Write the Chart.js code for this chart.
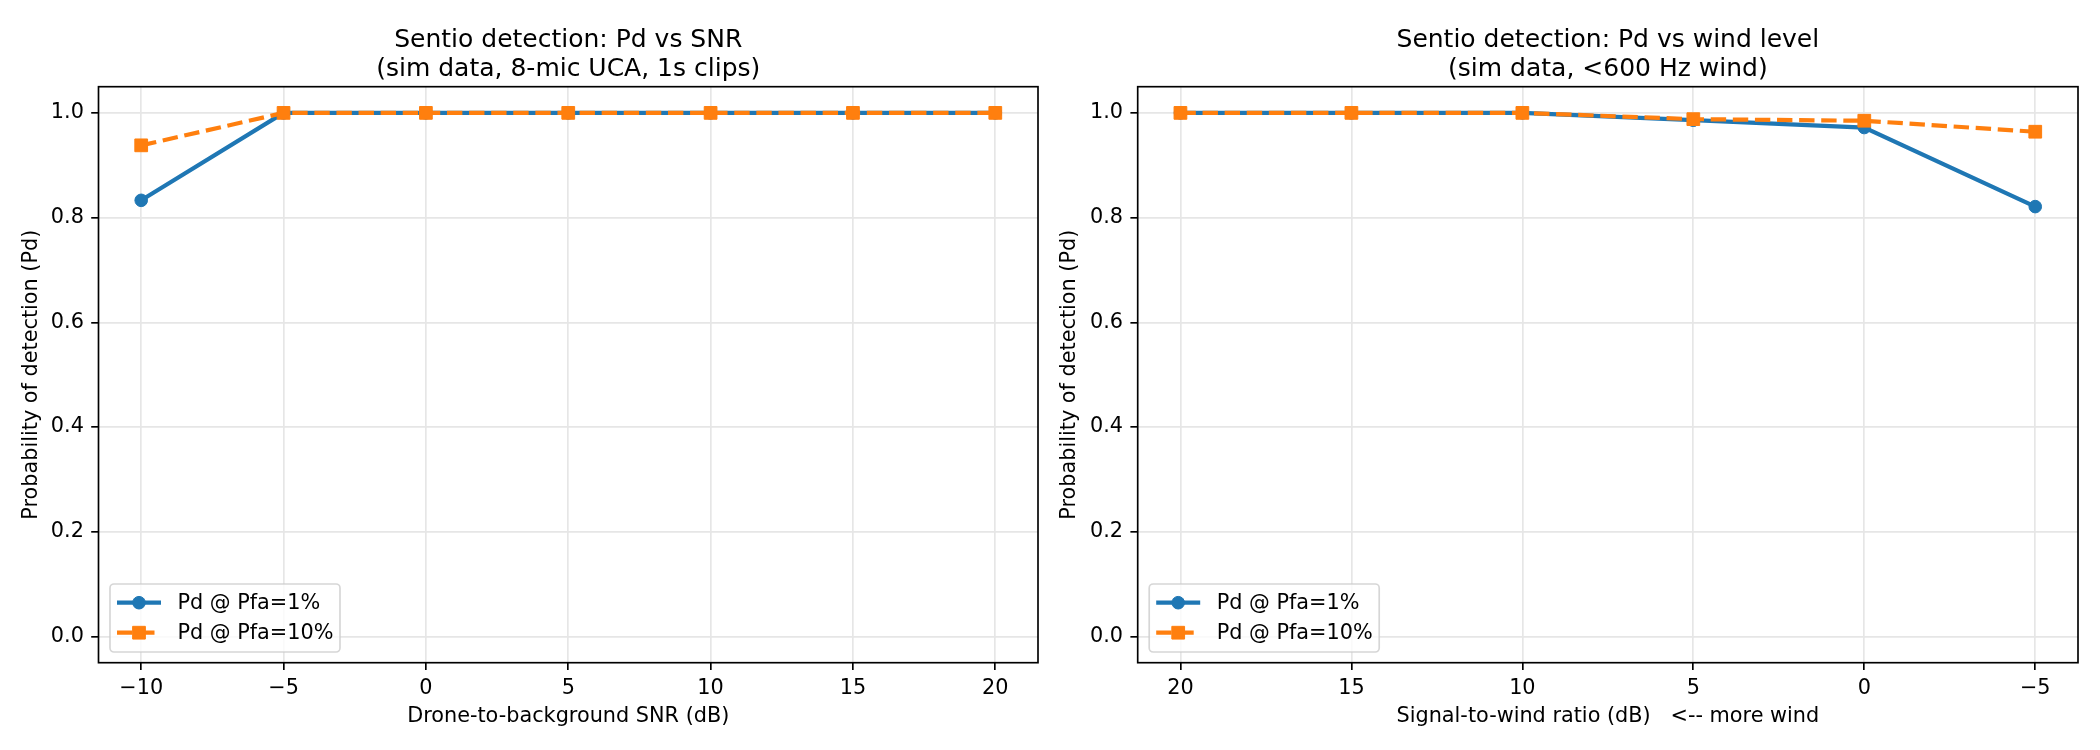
<!DOCTYPE html>
<html>
<head>
<meta charset="utf-8">
<script src="https://cdn.jsdelivr.net/npm/chart.js@4.4.0/dist/chart.umd.min.js"></script>
<style>
html, body { margin: 0; padding: 0; background: #fff; }
#wrap { position: relative; width: 2100px; height: 750px; }
.panel { position: absolute; top: 0; width: 1050px; height: 750px; }
</style>
</head>
<body>
<div id="wrap">
  <div class="panel" style="left:0"><canvas id="snrChart" width="1050" height="750"></canvas></div>
  <div class="panel" style="left:1050px"><canvas id="windChart" width="1050" height="750"></canvas></div>
</div>
<script>
// --- data ---
const snrDb = [-10, -5, 0, 5, 10, 15, 20]
const snrPd1 = [0.833, 1, 1, 1, 1, 1, 1]
const snrPd10 = [0.938, 1, 1, 1, 1, 1, 1]

const windDb = [20, 15, 10, 5, 0, -5]
const windPd1 = [1, 1, 1, 0.986, 0.972, 0.821]
const windPd10 = [1, 1, 1, 0.988, 0.985, 0.964]

const snrTicks = [-10, -5, 0, 5, 10, 15, 20]
const windTicks = [20, 15, 10, 5, 0, -5]
const yTicks = [0, 0.2, 0.4, 0.6, 0.8, 1.0]

const seriesLabels = ['Pd @ Pfa=1%', 'Pd @ Pfa=10%']

Chart.defaults.font.family = '"DejaVu Sans", sans-serif'
Chart.defaults.font.size = 20.8
Chart.defaults.color = '#000'

const BLUE = '#1f77b4'
const ORANGE = '#ff7f0e'

function toPoints(xs, ys) {
    return xs.map((x, i) => ({ x: x, y: ys[i] }))
}

function fmtTick(v) {
    return String(v).replace('-', '\u2212')
}

// spines, two-line title and matplotlib-like legend
const figurePlugin = {
    id: 'figure',
    afterDraw(chart, args, opts) {
        const ctx = chart.ctx
        const ca = chart.chartArea
        ctx.save()

        ctx.strokeStyle = '#000'
        ctx.lineWidth = 1.67
        ctx.strokeRect(ca.left, ca.top, ca.right - ca.left, ca.bottom - ca.top)

        ctx.fillStyle = '#000'
        ctx.font = '25px "DejaVu Sans"'
        ctx.textAlign = 'center'
        ctx.textBaseline = 'middle'
        const cx = (ca.left + ca.right) / 2
        opts.title.forEach((t, i) => ctx.fillText(t, cx, 40 + i * 29.5))

        // legend box, lower left
        const bw = 230, bh = 68
        const bx = ca.left + 11.5
        const by = ca.bottom - 10.7 - bh
        ctx.beginPath()
        ctx.roundRect(bx, by, bw, bh, 4)
        ctx.fillStyle = 'rgba(255,255,255,0.8)'
        ctx.fill()
        ctx.strokeStyle = 'rgba(204,204,204,0.8)'
        ctx.lineWidth = 1.67
        ctx.stroke()

        chart.data.datasets.forEach((ds, i) => {
            const y = by + 18.7 + i * 30
            ctx.beginPath()
            ctx.setLineDash(ds.borderDash || [])
            ctx.strokeStyle = ds.borderColor
            ctx.lineWidth = ds.borderWidth
            ctx.moveTo(bx + 7, y)
            ctx.lineTo(bx + 51, y)
            ctx.stroke()
            ctx.setLineDash([])

            ctx.fillStyle = ds.pointBackgroundColor
            ctx.strokeStyle = ds.pointBorderColor
            ctx.lineWidth = ds.pointBorderWidth
            ctx.beginPath()
            if (ds.pointStyle === 'rect') {
                const s = ds.pointRadius * Math.SQRT1_2
                ctx.rect(bx + 29 - s, y - s, 2 * s, 2 * s)
            } else {
                ctx.arc(bx + 29, y, ds.pointRadius, 0, Math.PI * 2)
            }
            ctx.fill()
            ctx.stroke()

            ctx.fillStyle = '#000'
            ctx.font = '20.8px "DejaVu Sans"'
            ctx.textAlign = 'left'
            ctx.textBaseline = 'middle'
            ctx.fillText(ds.label, bx + 67.5, y + 1)
        })
        ctx.restore()
    }
}

function makeDatasets(xs, pd1, pd10) {
    return [{
        label: seriesLabels[0],
        data: toPoints(xs, pd1),
        borderColor: BLUE,
        backgroundColor: BLUE,
        borderWidth: 4.2,
        pointStyle: 'circle',
        pointRadius: 6.3,
        pointBackgroundColor: BLUE,
        pointBorderColor: BLUE,
        pointBorderWidth: 1,
        tension: 0,
        order: 1
    }, {
        label: seriesLabels[1],
        data: toPoints(xs, pd10),
        borderColor: ORANGE,
        backgroundColor: ORANGE,
        borderWidth: 4.2,
        borderDash: [15.4, 6.7],
        pointStyle: 'rect',
        pointRadius: 9,
        pointBackgroundColor: ORANGE,
        pointBorderColor: ORANGE,
        pointBorderWidth: 1,
        tension: 0,
        order: 0
    }]
}

function makeOptions(cfg) {
    const gridStyle = {
        color: '#e6e6e6',
        lineWidth: 1.67,
        drawTicks: true,
        tickLength: 7.3,
        tickColor: '#000',
        tickWidth: 1.67
    }
    return {
        responsive: false,
        animation: false,
        layout: { padding: { left: 0, right: cfg.padRight, top: 86.7, bottom: 0 } },
        plugins: {
            legend: { display: false },
            tooltip: { enabled: false },
            figure: { title: cfg.title }
        },
        scales: {
            x: {
                type: 'linear',
                min: cfg.xMin,
                max: cfg.xMax,
                reverse: cfg.reverse,
                grid: gridStyle,
                border: { display: false },
                ticks: { padding: 6, maxRotation: 0, callback: v => fmtTick(v) },
                afterBuildTicks: s => { s.ticks = cfg.xTicks.map(v => ({ value: v })) },
                afterFit: s => { s.height = 87.3 },
                title: { display: true, text: cfg.xTitle, padding: { top: 0, bottom: 21 } }
            },
            y: {
                type: 'linear',
                min: -0.05,
                max: 1.05,
                grid: gridStyle,
                border: { display: false },
                ticks: { padding: 7.3, callback: v => Number(v).toFixed(1) },
                afterBuildTicks: s => { s.ticks = yTicks.map(v => ({ value: v })) },
                afterFit: s => { s.width = cfg.yWidth },
                title: { display: true, text: 'Probability of detection (Pd)', padding: { top: cfg.yTitlePad, bottom: 0 } }
            }
        }
    }
}

new Chart(document.getElementById('snrChart'), {
    type: 'line',
    data: { datasets: makeDatasets(snrDb, snrPd1, snrPd10) },
    options: makeOptions({
        title: ['Sentio detection: Pd vs SNR', '(sim data, 8-mic UCA, 1s clips)'],
        xMin: -11.5, xMax: 21.5, reverse: false, xTicks: snrTicks,
        xTitle: 'Drone-to-background SNR (dB)',
        yWidth: 98.5, yTitlePad: 19.5, padRight: 12
    }),
    plugins: [figurePlugin]
})

new Chart(document.getElementById('windChart'), {
    type: 'line',
    data: { datasets: makeDatasets(windDb, windPd1, windPd10) },
    options: makeOptions({
        title: ['Sentio detection: Pd vs wind level', '(sim data, <600 Hz wind)'],
        xMin: -6.25, xMax: 21.25, reverse: true, xTicks: windTicks,
        xTitle: 'Signal-to-wind ratio (dB)   <-- more wind',
        yWidth: 87.7, yTitlePad: 7.5, padRight: 22
    }),
    plugins: [figurePlugin]
})
</script>
</body>
</html>
